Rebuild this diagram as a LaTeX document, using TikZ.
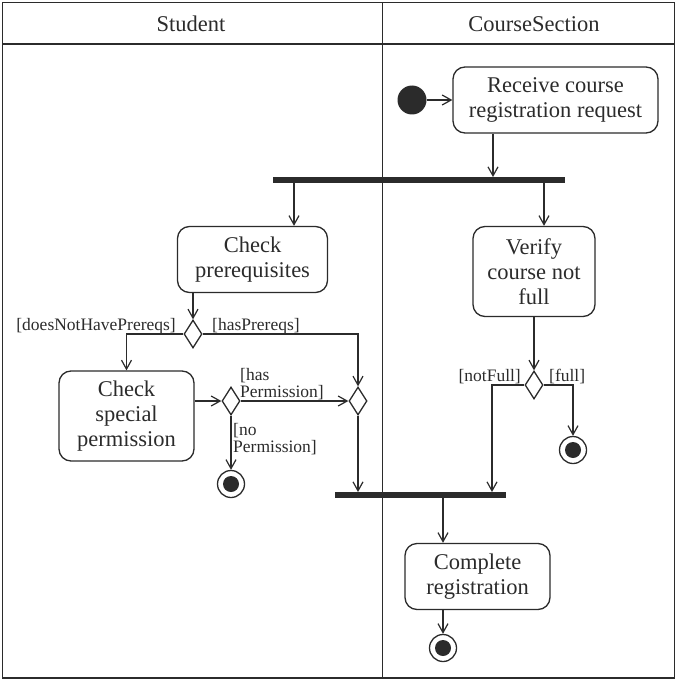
\documentclass[tikz,border=0pt]{standalone}
\usepackage{fontspec}
\setmainfont{Liberation Serif}
\usetikzlibrary{arrows.meta,shapes.geometric,calc}
\definecolor{lc}{HTML}{2B2B2B}
\newcommand{\nfont}{\fontsize{22.5}{25}\selectfont}
\newcommand{\lfont}{\fontsize{17.5}{17}\selectfont}
\begin{document}
\begin{tikzpicture}[x=1pt,y=-1pt,
 every node/.style={text=lc},
 ln/.style={draw=lc, line width=1.4pt},
 arr/.style={ln, -{Straight Barb[length=9pt,width=10pt,line width=1.2pt]}},
 act/.style={draw=lc, line width=1.3pt, rounded corners=12pt, inner sep=0pt, align=center, font=\nfont},
 dec/.style={diamond, draw=lc, line width=1.3pt, minimum width=18pt, minimum height=28pt, inner sep=0pt},
 bar/.style={fill=lc, inner sep=0pt, minimum height=5.5pt},
 initn/.style={circle, fill=lc, minimum size=29pt, inner sep=0pt},
 finn/.style={circle, draw=lc, line width=1.3pt, minimum size=27pt, inner sep=0pt, path picture={\fill[lc] (path picture bounding box.center) circle (8pt);}},
 lbl/.style={font=\lfont, inner sep=0pt, align=left},
 hdr/.style={font=\nfont, inner sep=0pt},
]
\useasboundingbox (0,0) rectangle (677,682);
\draw[draw=lc, line width=1.8pt] (2.5,2.5) rectangle (674.5,678);
\draw[lc, line width=1.4pt] (2.5,44) -- (674.5,44);
\draw[lc, line width=1.4pt] (382.5,2.5) -- (382.5,678);

\node[hdr] (hs) at (191,24) {Student};
\node[hdr] (hc) at (534,24) {CourseSection};

\coordinate (c1) at (493,0);
\coordinate (c2) at (294,0);
\coordinate (c3) at (544,0);
\coordinate (c6) at (492,0);

\node[initn] (init) at (412,100) {};
\node[act, minimum width=205pt, minimum height=66pt] (rcv) at (555.5,100) {Receive course\\registration request};
\node[bar, minimum width=292pt] (fork) at (419,180) {};
\node[act, minimum width=150pt, minimum height=66pt] (chk) at (252.5,259.5) {Check\\prerequisites};
\node[act, minimum width=122pt, minimum height=90pt] (ver) at (534,271.5) {Verify\\course not\\full};
\node[dec] (d1) at (193,334) {};
\node[act, minimum width=135pt, minimum height=90pt] (spc) at (126.5,416) {Check\\special\\permission};
\node[dec] (d3) at (231,401) {};
\node[dec] (d4) at (358,401) {};
\node[finn] (f1) at (231,484) {};
\node[dec] (d5) at (534,385) {};
\node[finn] (f2) at (573,450) {};
\node[bar, minimum width=171pt] (join) at (420,495) {};
\node[act, minimum width=145pt, minimum height=66pt] (cmp) at (477.5,576.5) {Complete\\registration};
\node[finn] (f3) at (443,648) {};

\draw[arr] (init) -- (rcv);
\draw[arr] (rcv.south -| c1) -- (fork.north -| c1);
\draw[arr] (fork.south -| c2) -- (chk.north -| c2);
\draw[arr] (fork.south -| c3) -- (ver.north -| c3);
\draw[arr] (chk.south -| d1) -- (d1.north);
\draw[arr] (d1.west) -| (spc.north);
\draw[arr] (d1.east) -| (d4.north);
\draw[arr] (spc.east |- d3) -- (d3.west);
\draw[arr] (d3.east) -- (d4.west);
\draw[arr] (d3.south) -- (f1.north);
\draw[arr] (d4.south) -- (d4.south |- join.north);
\draw[arr] (ver.south -| d5) -- (d5.north);
\draw[arr] (d5.west) -| (c6 |- join.north);
\draw[arr] (d5.east) -| (f2.north);
\draw[arr] (join.south -| f3) -- (cmp.north -| f3);
\draw[arr] (cmp.south -| f3) -- (f3.north);

\node[lbl, anchor=base east] (l1) at (176,330) {[doesNotHavePrereqs]};
\node[lbl, anchor=base west] (l2) at (212,330) {[hasPrereqs]};
\node[lbl, anchor=north west] (l3) at (240,368) {[has\\Permission]};
\node[lbl, anchor=north west] (l4) at (233,423.5) {[no\\Permission]};
\node[lbl, anchor=base east] (l5) at (521,381) {[notFull]};
\node[lbl, anchor=base west] (l6) at (549,381) {[full]};
\end{tikzpicture}
\end{document}
